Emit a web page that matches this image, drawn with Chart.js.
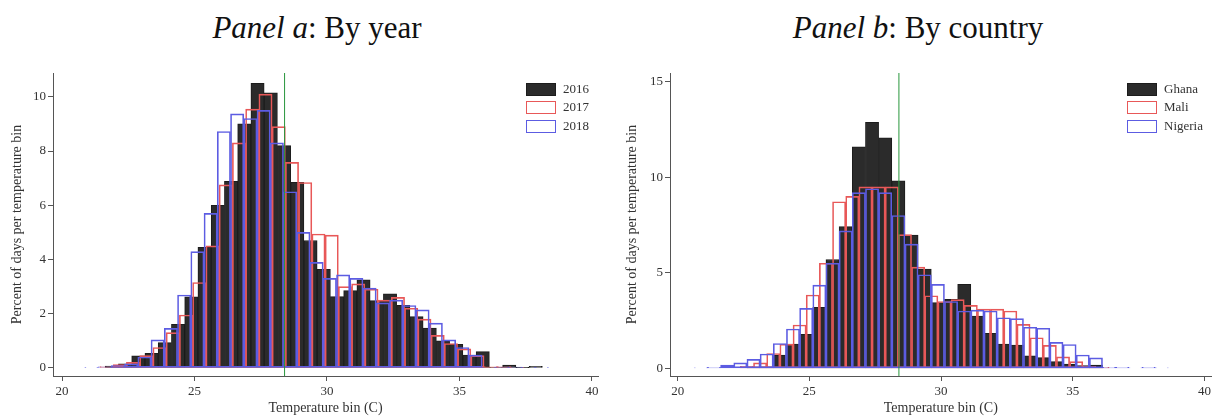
<!DOCTYPE html>
<html>
<head>
<meta charset="utf-8">
<script src="https://cdn.jsdelivr.net/npm/chart.js@4.4.0/dist/chart.umd.min.js"></script>
<style>
  body { margin: 0; background: #fff; width: 1214px; height: 417px; position: relative; overflow: hidden; }
  .title { position: absolute; top: 10px; font: 31px "Liberation Serif", serif; color: #111; white-space: nowrap; transform: translateX(-50%); }
  .panel { position: absolute; top: 60px; width: 607px; height: 357px; }
</style>
</head>
<body>
<div class="title" style="left:317px"><i>Panel a</i>: By year</div>
<div class="title" style="left:918px"><i>Panel b</i>: By country</div>
<div class="panel" style="left:0"><canvas id="year_chart"></canvas></div>
<div class="panel" style="left:607px"><canvas id="country_chart"></canvas></div>
<script>
// shared axis values
var tempTicks = [20, 25, 30, 35, 40];
var meanTemp = 28.4;

// Panel a: by year (bin centres, percent of days)
var yearLabels = ["2016", "2017", "2018"];
var bins2016 = [21.88,22.38,22.88,23.38,23.88,24.38,24.88,25.38,25.88,26.38,26.88,27.38,27.88,28.38,28.88,29.38,29.88,30.38,30.88,31.38,31.88,32.38,32.88,33.38,33.88,34.38,34.88,35.38,35.88,36.38,36.88,37.38,37.88];
var pct2016 = [0.07,0.15,0.44,0.54,0.93,1.61,2.62,4.45,6.0,6.88,9.0,10.5,10.15,8.2,6.85,4.7,3.64,2.63,2.85,3.25,2.48,2.73,2.31,1.89,1.47,1.0,0.87,0.47,0.6,0.02,0.1,0.01,0.06];
var bins2017 = [21.68,22.18,22.68,23.18,23.68,24.18,24.68,25.18,25.68,26.18,26.68,27.18,27.68,28.18,28.68,29.18,29.68,30.18,30.68,31.18,31.68,32.18,32.68,33.18,33.68,34.18,34.68,35.18,35.68,36.18,36.68,37.18];
var pct2017 = [0.05,0.12,0.2,0.45,0.75,1.3,1.95,3.15,4.5,6.75,8.3,9.55,10.1,8.9,7.58,6.84,4.94,4.9,3.0,3.1,2.9,2.5,2.6,2.2,1.8,1.2,0.9,0.7,0.45,0.05,0.05,0.02];
var bins2018 = [21.11,21.61,22.11,22.61,23.11,23.61,24.11,24.61,25.11,25.61,26.11,26.61,27.11,27.61,28.11,28.61,29.11,29.61,30.11,30.61,31.11,31.61,32.11,32.61,33.11,33.61,34.11,34.61,35.11,35.61,36.11,36.61,37.11,37.61,38.11];
var pct2018 = [0.02,0.04,0.08,0.15,0.4,1.03,1.46,2.69,4.29,5.7,8.72,9.37,9.2,9.5,8.3,6.5,5.0,3.89,3.3,3.43,3.3,2.94,2.4,2.5,2.3,2.14,1.65,1.03,0.75,0.47,0.02,0.03,0.03,0.02,0.02];
var yearTicks = [0, 2, 4, 6, 8, 10];

// Panel b: by country
var countryLabels = ["Ghana", "Mali", "Nigeria"];
var binsGhana = [22.88,23.38,23.88,24.38,24.88,25.38,25.88,26.38,26.88,27.38,27.88,28.38,28.88,29.38,29.88,30.38,30.88,31.38,31.88,32.38,32.88,33.38,33.88,34.38,34.88,35.38,35.88];
var pctGhana = [0.02,0.08,0.7,1.27,1.78,3.19,5.7,7.42,11.6,12.88,12.07,9.82,6.98,5.2,3.44,3.61,4.4,2.74,1.83,1.27,1.22,0.66,0.56,0.35,0.23,0.14,0.17];
var binsMali = [22.63,23.13,23.63,24.13,24.63,25.13,25.63,26.13,26.63,27.13,27.63,28.13,28.63,29.13,29.63,30.13,30.63,31.13,31.63,32.13,32.63,33.13,33.63,34.13,34.63,35.13,35.63,36.13];
var pctMali = [0.1,0.29,0.78,1.26,2.27,3.84,5.5,8.72,9.0,9.5,9.5,9.5,7.0,5.3,3.8,3.5,3.6,3.3,3.1,3.1,3.0,2.3,1.6,1.2,0.6,0.35,0.1,0.05];
var binsNigeria = [20.88,21.38,21.88,22.38,22.88,23.38,23.88,24.38,24.88,25.38,25.88,26.38,26.88,27.38,27.88,28.38,28.88,29.38,29.88,30.38,30.88,31.38,31.88,32.38,32.88,33.38,33.88,34.38,34.88,35.38,35.88,36.38,36.88,37.38,37.88,38.38];
var pctNigeria = [0.02,0.05,0.17,0.29,0.47,0.75,1.3,2.06,3.14,4.36,5.5,7.2,9.2,9.4,9.2,8.0,6.5,4.9,4.4,3.5,3.0,3.05,3.0,2.65,2.6,2.15,2.1,1.36,1.25,0.7,0.55,0.05,0.05,0.02,0.05,0.02];
var countryTicks = [0, 5, 10, 15];

var serif = '"Liberation Serif", "Times New Roman", serif';
var inkColor = '#333';

// filled first series, outlined second and third
var styles = [
  { fill: '#2b2b2b', line: '#1c1c1c', axis: 'x',  order: 4 },
  { fill: 'rgba(0,0,0,0)', line: 'rgb(232,88,88)', axis: 'x2', order: 3 },
  { fill: 'rgba(0,0,0,0)', line: 'rgb(92,92,226)', axis: 'x3', order: 2 }
];

function histSet(label, bins, pct, i) {
  return {
    label: label,
    data: bins.map(function (b, k) { return { x: b, y: pct[k] }; }),
    xAxisID: styles[i].axis,
    backgroundColor: styles[i].fill,
    borderColor: styles[i].line,
    borderWidth: 1,
    borderSkipped: false,
    grouped: false,
    barPercentage: 1,
    categoryPercentage: 1,
    order: styles[i].order
  };
}

function meanLine(yMin, yMax) {
  return {
    type: 'line',
    label: 'mean',
    data: [{ x: meanTemp, y: yMin }, { x: meanTemp, y: yMax }],
    xAxisID: 'x',
    borderColor: 'rgb(40,150,60)',
    borderWidth: 1,
    pointRadius: 0,
    order: 1
  };
}

// legend boxes drawn inside the top right corner of the plot
var boxLegend = {
  id: 'boxLegend',
  afterDatasetsDraw: function (chart) {
    var ctx = chart.ctx, area = chart.chartArea;
    var sets = chart.data.datasets.filter(function (d) { return d.type !== 'line'; });
    ctx.save();
    ctx.font = '13px ' + serif;
    var textW = Math.max.apply(null, sets.map(function (d) { return ctx.measureText(d.label).width; }));
    var x = Math.round(area.right - 9 - textW - 7 - 30);
    var y = Math.round(area.top + 10);
    sets.forEach(function (d, i) {
      var top = Math.round(y + i * 18.3);
      if (d.backgroundColor !== 'rgba(0,0,0,0)') {
        ctx.fillStyle = d.backgroundColor;
        ctx.fillRect(x, top, 30, 13);
      }
      ctx.strokeStyle = d.borderColor;
      ctx.lineWidth = 1;
      ctx.strokeRect(x + 0.5, top + 0.5, 29, 12);
      ctx.fillStyle = inkColor;
      ctx.textBaseline = 'middle';
      ctx.fillText(d.label, x + 37, top + 7);
    });
    ctx.restore();
  }
};

function buildChart(id, sets, cfg) {
  function hiddenX() { return { type: 'linear', display: false, min: cfg.xMin, max: cfg.xMax, offset: false }; }
  return new Chart(document.getElementById(id).getContext('2d'), {
    type: 'bar',
    data: { datasets: sets },
    options: {
      responsive: true,
      maintainAspectRatio: false,
      animation: false,
      layout: { padding: { left: 0, right: cfg.padRight, top: 13, bottom: 0 } },
      plugins: { legend: { display: false }, tooltip: { enabled: false } },
      scales: {
        x: {
          type: 'linear', min: cfg.xMin, max: cfg.xMax, offset: false,
          afterBuildTicks: function (s) { s.ticks = tempTicks.map(function (v) { return { value: v }; }); },
          grid: { offset: false, drawOnChartArea: false, tickLength: 5, color: '#555' },
          border: { color: '#555' },
          ticks: { font: { family: serif, size: 13 }, color: inkColor, padding: 3, maxRotation: 0 },
          title: { display: true, text: 'Temperature bin (C)', font: { family: serif, size: 14 }, color: inkColor, padding: { top: 1, bottom: 0 } },
          afterFit: function (s) { s.height = 41; }
        },
        x2: hiddenX(),
        x3: hiddenX(),
        y: {
          min: cfg.yMin, max: cfg.yMax,
          afterBuildTicks: function (s) { s.ticks = cfg.yTicks.map(function (v) { return { value: v }; }); },
          grid: { drawOnChartArea: false, tickLength: 5, color: '#555' },
          border: { color: '#555' },
          ticks: { font: { family: serif, size: 13 }, color: inkColor, padding: 2 },
          title: { display: true, text: 'Percent of days per temperature bin', font: { family: serif, size: 14 }, color: inkColor, padding: { top: cfg.titlePad, bottom: 0 } },
          afterFit: function (s) { s.width = cfg.axisWidth; }
        }
      }
    },
    plugins: [boxLegend]
  });
}

var year_chart = buildChart('year_chart', [
  histSet(yearLabels[0], bins2016, pct2016, 0),
  histSet(yearLabels[1], bins2017, pct2017, 1),
  histSet(yearLabels[2], bins2018, pct2018, 2),
  meanLine(-0.3, 10.88)
], { xMin: 19.66, xMax: 40.23, yMin: -0.3, yMax: 10.88, yTicks: yearTicks, padRight: 9, axisWidth: 53, titlePad: 9 });

var country_chart = buildChart('country_chart', [
  histSet(countryLabels[0], binsGhana, pctGhana, 0),
  histSet(countryLabels[1], binsMali, pctMali, 1),
  histSet(countryLabels[2], binsNigeria, pctNigeria, 2),
  meanLine(-0.4, 15.46)
], { xMin: 19.71, xMax: 40.27, yMin: -0.4, yMax: 15.46, yTicks: countryTicks, padRight: 2, axisWidth: 63, titlePad: 17 });
</script>
</body>
</html>
